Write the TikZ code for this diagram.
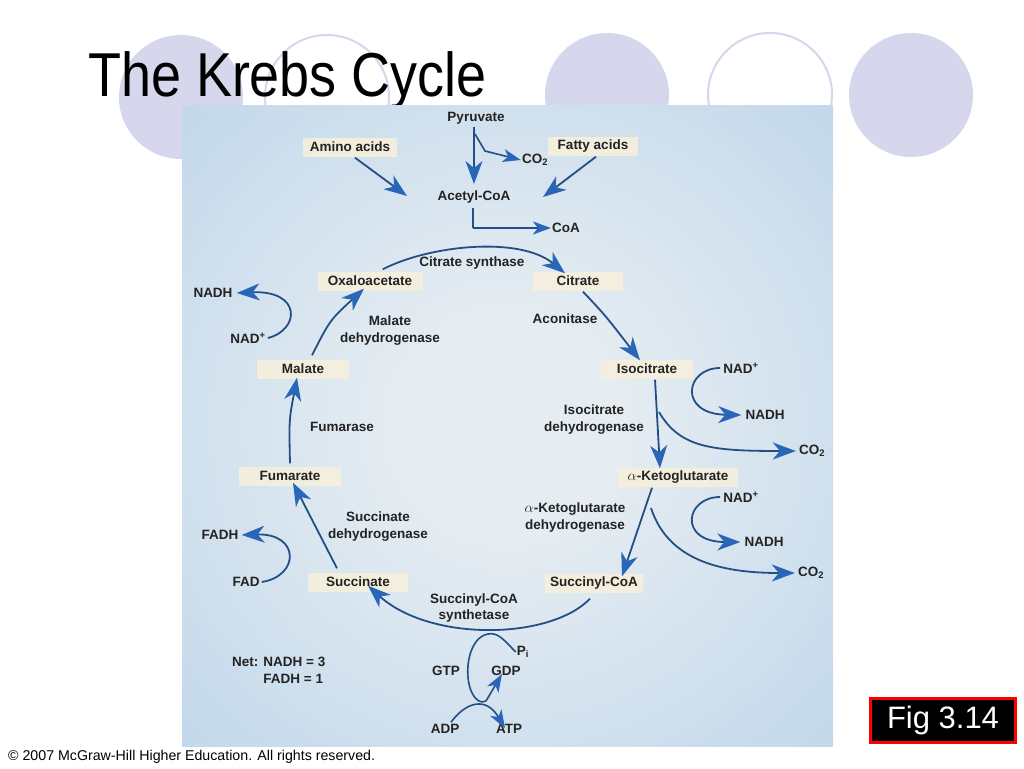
\documentclass[tikz,border=0pt]{standalone}
\usepackage{fontspec}
\setmainfont{Liberation Sans}
\usetikzlibrary{arrows.meta}
\definecolor{lav}{HTML}{D6D6EC}
\definecolor{bgin}{HTML}{E6EDF2}
\definecolor{bgmid}{HTML}{BFD6EA}
\definecolor{bgout}{HTML}{A6C6E4}
\definecolor{cream}{HTML}{F5EFDC}
\definecolor{shaft}{HTML}{234F85}
\definecolor{headc}{HTML}{2A66B8}
\definecolor{txt}{HTML}{232323}
\pgfdeclareradialshading{bgshade}{\pgfpoint{0bp}{0bp}}{color(0bp)=(bgin); color(8bp)=(bgin); color(38bp)=(bgmid); color(58bp)=(bgout); color(75bp)=(bgout)}
\tikzset{
  lbl/.style={font=\fontsize{13.5}{17}\selectfont\bfseries, text=txt, inner sep=0pt, align=center},
  cbox/.style={lbl, fill=cream, fill opacity=0.92, text opacity=1, minimum height=19pt},
  arr/.style={draw=shaft, line width=1.8pt, -{Stealth[length=23pt,width=17pt,inset=7pt,color=headc]}},
  sarr/.style={draw=shaft, line width=1.6pt, -{Stealth[length=18pt,width=13pt,inset=5pt,color=headc]}},
  ln/.style={draw=shaft, line width=1.6pt},
  fcirc/.style={fill=lav},
  ocirc/.style={draw=lav, line width=2pt}
}
\begin{document}
\begin{tikzpicture}[x=1pt,y=-1pt]
\useasboundingbox (0,0) rectangle (1024,768);
\fill[white] (0,0) rectangle (1024,768);
% decorative circles
\fill[fcirc] (181,97) circle (62);
\draw[ocirc] (327,97) circle (62);
\fill[fcirc] (607,95) circle (62);
\draw[ocirc] (770,95) circle (62);
\fill[fcirc] (911,95) circle (62);
% title
\node[anchor=base west, inner sep=0pt, xscale=0.87, font=\fontsize{62}{62}\selectfont] (title) at (88,96) {The Krebs Cycle};
% diagram background
\shade[shading=bgshade] (182,105) rectangle (833,746);
% labels
\node[lbl] (pyr) at (476,118) {Pyruvate};
\node[cbox, minimum width=94pt] (amino) at (350,147) {Amino acids};
\node[cbox, minimum width=90pt] (fatty) at (593,146) {Fatty acids};
\node[lbl] (co2a) at (535,160) {CO\textsubscript{2}};
\node[lbl] (acetyl) at (474,197) {Acetyl-CoA};
\node[lbl] (coa) at (566,228) {CoA};
\node[lbl] (cs) at (472,263) {Citrate synthase};
\node[cbox, minimum width=105pt] (oxa) at (370,281) {Oxaloacetate};
\node[cbox, minimum width=90pt] (cit) at (578,281) {Citrate};
\node[lbl] (nadh1) at (213,293) {NADH};
\node[lbl] (nad1) at (248,338) {NAD\textsuperscript{+}};
\node[lbl] (mdh) at (390,331) {Malate\\dehydrogenase};
\node[lbl] (acon) at (565,319) {Aconitase};
\node[cbox, minimum width=92pt] (iso) at (647,369) {Isocitrate};
\node[lbl] (nad2) at (741,368) {NAD\textsuperscript{+}};
\node[lbl] (nadh2) at (765,415) {NADH};
\node[cbox, minimum width=92pt] (mal) at (303,369) {Malate};
\node[lbl] (fumase) at (342,427) {Fumarase};
\node[lbl] (idh) at (594,420) {Isocitrate\\dehydrogenase};
\node[lbl] (co2b) at (812,451) {CO\textsubscript{2}};
\node[cbox, minimum width=120pt] (akg) at (678,477) {$\alpha$-Ketoglutarate};
\node[cbox, minimum width=102pt] (fum) at (290,476) {Fumarate};
\node[lbl] (nad3) at (741,497) {NAD\textsuperscript{+}};
\node[lbl] (akgdh) at (575,518) {$\alpha$-Ketoglutarate\\dehydrogenase};
\node[lbl] (nadh3) at (764,542) {NADH};
\node[lbl] (sdh) at (378,527) {Succinate\\dehydrogenase};
\node[lbl] (fadh) at (220,535) {FADH};
\node[lbl] (fad) at (246,582) {FAD};
\node[cbox, minimum width=100pt] (succ) at (358,582) {Succinate};
\node[cbox, minimum width=98pt] (scoa) at (594,583) {Succinyl-CoA};
\node[lbl] (co2c) at (811,573) {CO\textsubscript{2}};
\node[lbl] (scs) at (474,608) {Succinyl-CoA\\synthetase};
\node[lbl] (pi) at (523,652) {P\textsubscript{i}};
\node[lbl] (gtp) at (446,671) {GTP};
\node[lbl] (gdp) at (506,671) {GDP};
\node[lbl, align=left, anchor=north west] (net) at (232,657) {Net: NADH = 3\\\phantom{Net: }FADH = 1};
\node[lbl] (adp) at (445,729) {ADP};
\node[lbl] (atp) at (509,729) {ATP};
% coordinates for connectors
\coordinate (p1) at (475,134);
\coordinate (p2) at (485,151);
\coordinate (acIn) at (474,184);
\coordinate (acL) at (407,196);
\coordinate (acR) at (543,197);
\coordinate (coaTop) at (473,208);
\coordinate (coaCorner) at (473,228);
\coordinate (isoBr) at (659,412);
\coordinate (akgBr) at (651,508);
\coordinate (loopEnd) at (486,701);
% connectors
\draw[arr] (amino.south) ++(5,1) -- (acL);
\draw[arr] (fatty.south) ++(3,1) -- (acR);
\draw[arr] (pyr.south) ++(-2,3) -- (acIn);
\draw[sarr] (p1) -- (p2) -- ([xshift=-1pt]co2a.west);
\draw[ln] (coaTop) -- (coaCorner);
\draw[sarr] (coaCorner) -- ([xshift=-1pt]coa.west);
\draw[arr] (oxa.north east) ++(-40,-2) .. controls (430,245) and (520,236) .. ([xshift=-13pt,yshift=-2pt]cit.north);
\draw[arr] (cit.south) ++(5,1) .. controls (605,315) .. ([xshift=-7pt,yshift=-1pt]iso.north);
\draw[arr] (iso.south) ++(8,1) -- ([xshift=-18pt,yshift=-1pt]akg.north);
\draw[arr] (isoBr) .. controls (680,448) and (712,451) .. ([xshift=-3pt]co2b.west);
\draw[arr] (nad2.west) ++(-3,0) .. controls (685,368) and (678,414) .. ([xshift=-4pt]nadh2.west);
\draw[arr] (akg.south) ++(-26,1) -- ([xshift=28pt,yshift=-3pt]scoa.north);
\draw[arr] (akgBr) .. controls (668,560) and (720,573) .. ([xshift=-3pt]co2c.west);
\draw[arr] (nad3.west) ++(-3,0) .. controls (685,497) and (678,542) .. ([xshift=-4pt]nadh3.west);
\draw[arr] (scoa.south) ++(-4,6) .. controls (550,640) and (430,642) .. ([xshift=10pt,yshift=6pt]succ.south);
\draw[arr] (succ.north) ++(-21,-4) -- ([xshift=3pt,yshift=3pt]fum.south);
\draw[arr] (fad.east) ++(2,0) .. controls (300,576) and (300,533) .. ([xshift=3pt]fadh.east);
\draw[arr] (fum.north) ++(0,-3) .. controls (289,420) .. ([xshift=-6pt,yshift=1pt]mal.south);
\draw[arr] (mal.north) ++(9,-4) .. controls (330,320) .. ([xshift=-6pt,yshift=2pt]oxa.south);
\draw[arr] (nad1.east) ++(2,0) .. controls (300,330) and (302,290) .. ([xshift=4pt]nadh1.east);
% GTP / ATP cycle
\draw[ln] (pi.west) ++(-1,0) .. controls (504,640) and (498,632) .. (488,634)
   .. controls (470,637) and (464,668) .. (470,688)
   .. controls (474,700) and (481,704) .. (loopEnd);
\draw[sarr] (loopEnd) -- ([xshift=-4pt,yshift=2pt]gdp.south);
\draw[sarr] (adp.north) ++(6,-2) .. controls (466,702) and (486,696) .. ([xshift=-4pt,yshift=-4pt]atp.north);
% figure tag and copyright
\node[fill=black, draw=red, line width=3pt, minimum width=145pt, minimum height=44pt, text=white, font=\fontsize{31}{31}\selectfont] (fig) at (943,720) {Fig 3.14};
\node[anchor=base west, inner sep=0pt, font=\fontsize{14.2}{14}\selectfont] (copy) at (8,760) {© 2007 McGraw-Hill Higher Education. All rights reserved.};
\end{tikzpicture}
\end{document}
